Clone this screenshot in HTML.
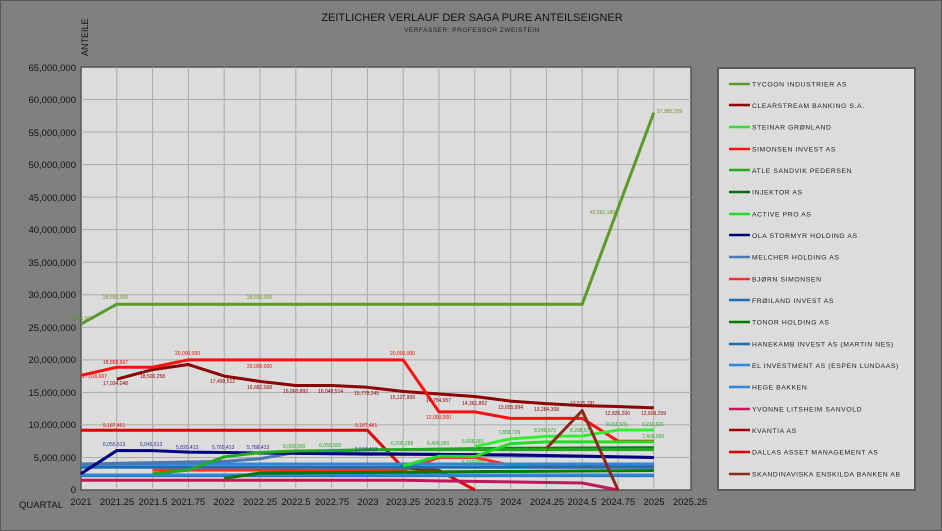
<!DOCTYPE html>
<html><head><meta charset="utf-8"><style>
body{margin:0;background:#808080;width:942px;height:531px;overflow:hidden;font-family:"Liberation Sans",sans-serif}
svg{display:block}
</style></head><body>
<svg id="s" width="942" height="531" xmlns="http://www.w3.org/2000/svg" font-family="Liberation Sans, sans-serif">
<rect x="0" y="0" width="942" height="531" fill="#808080" stroke="#5a5a5a" stroke-width="2"/>
<text x="472" y="21" font-size="11" text-anchor="middle" fill="#111">ZEITLICHER VERLAUF DER SAGA PURE ANTEILSEIGNER</text>
<text x="472" y="32" font-size="6.5" text-anchor="middle" fill="#222" letter-spacing="0.5">VERFASSER: PROFESSOR ZWEISTEIN</text>
<text transform="translate(88,56) rotate(-90)" font-size="9" fill="#111">ANTEILE</text>
<rect x="81" y="67" width="610" height="423" fill="#dcdcdc" stroke="#555" stroke-width="1.5"/>
<g id="grid" stroke="#aaa" stroke-width="1"></g>
<g id="series" fill="none" stroke-linejoin="round" stroke-width="3"></g>
<g font-size="9.5" fill="#111" text-anchor="end">
<text x="76" y="71">65,000,000</text><text x="76" y="103">60,000,000</text><text x="76" y="136">55,000,000</text><text x="76" y="168">50,000,000</text><text x="76" y="201">45,000,000</text><text x="76" y="233">40,000,000</text><text x="76" y="266">35,000,000</text><text x="76" y="298">30,000,000</text><text x="76" y="331">25,000,000</text><text x="76" y="363">20,000,000</text><text x="76" y="396">15,000,000</text><text x="76" y="428">10,000,000</text><text x="76" y="461">5,000,000</text><text x="76" y="493">0</text>
</g>
<text x="19" y="508" font-size="9.5" fill="#111">QUARTAL</text>
<g font-size="9.5" fill="#111" text-anchor="middle">
<text x="81" y="505">2021</text><text x="117" y="505">2021.25</text><text x="153" y="505">2021.5</text><text x="188" y="505">2021.75</text><text x="224" y="505">2022</text><text x="260" y="505">2022.25</text><text x="296" y="505">2022.5</text><text x="332" y="505">2022.75</text><text x="368" y="505">2023</text><text x="403" y="505">2023.25</text><text x="439" y="505">2023.5</text><text x="475" y="505">2023.75</text><text x="511" y="505">2024</text><text x="547" y="505">2024.25</text><text x="582" y="505">2024.5</text><text x="618" y="505">2024.75</text><text x="654" y="505">2025</text><text x="690" y="505">2025.25</text>
</g>
<g font-size="5" fill="#6b8e23">
<text x="103" y="299">28,550,000</text><text x="247" y="299">28,550,000</text><text x="590" y="214">42,581,185</text><text x="657" y="113">57,985,159</text><text x="68" y="320">25,500,000</text>
</g>
<g font-size="5" fill="#8b0000">
<text x="103" y="385">17,034,048</text><text x="140" y="378">18,500,258</text><text x="210" y="383">17,499,512</text><text x="247" y="389">16,682,068</text><text x="283" y="393">16,060,892</text><text x="318" y="393">16,048,514</text><text x="354" y="395">15,778,245</text><text x="390" y="399">15,127,909</text><text x="426" y="402">14,754,957</text><text x="462" y="405">14,361,862</text><text x="498" y="409">13,655,994</text><text x="534" y="411">13,284,368</text><text x="605" y="415">12,825,200</text><text x="641" y="415">12,609,259</text><text x="570" y="405">12,515,781</text>
</g>
<g font-size="5" fill="#e00">
<text x="103" y="364">18,858,667</text><text x="175" y="355">20,000,000</text><text x="247" y="368">20,000,000</text><text x="390" y="355">20,000,000</text><text x="426" y="419">12,000,000</text><text x="103" y="427">9,187,461</text><text x="355" y="427">9,187,461</text><text x="82" y="378">17,616,667</text>
</g>
<g font-size="5" fill="#2b2b9b">
<text x="103" y="446">6,055,513</text><text x="140" y="446">6,045,513</text><text x="176" y="449">5,820,413</text><text x="212" y="449">5,760,413</text><text x="247" y="449">5,788,413</text><text x="355" y="451">5,510,413</text>
</g>
<g font-size="5" fill="#22aa22">
<text x="283" y="448">6,000,000</text><text x="319" y="447">6,050,000</text><text x="391" y="445">6,200,288</text><text x="427" y="445">6,400,000</text><text x="462" y="443">6,666,001</text><text x="498" y="434">7,858,729</text><text x="534" y="432">8,249,672</text><text x="570" y="432">8,298,677</text><text x="606" y="426">9,211,631</text><text x="642" y="426">9,211,631</text><text x="642" y="438">7,400,000</text><text x="462" y="464">5,150,000</text>
</g>
</svg>
<script>
const NS="http://www.w3.org/2000/svg";
const X=q=>81+q*35.8, Y=v=>490-v*6.508;
const g=document.getElementById('grid');
function el(p,t,a){const e=document.createElementNS(NS,t);for(const k in a)e.setAttribute(k,a[k]);p.appendChild(e);return e;}
for(let i=1;i<17;i++)el(g,'line',{x1:X(i),x2:X(i),y1:67,y2:490});
for(let i=1;i<13;i++)el(g,'line',{x1:81,x2:691,y1:Y(i*5),y2:Y(i*5)});
const S=[
["#5a9a2a",[[0,25.5],[1,28.55],[14,28.55],[16,57.985]]],
["#8b0000",[[1,17.03],[2,18.5],[3,19.28],[4,17.5],[5,16.68],[6,16.06],[7,16.05],[8,15.78],[9,15.13],[10,14.75],[11,14.36],[12,13.66],[13,13.28],[14,12.97],[15,12.83],[16,12.61]]],
["#ff1010",[[0,17.62],[1,18.86],[2,18.86],[3,20],[9,20],[10,12],[11,12],[12,11],[14,11],[15,7.5],[16,7.5]]],
["#dd0000",[[0,9.19],[8,9.19],[9,3.4],[10,3.0],[11,0]]],
["#ff3030",[[2,3.05],[9,3.05],[10,5.0],[11,5.0],[12,3.8],[16,3.8]]],
["#1f6fb0",[[0,3.5],[16,3.5]]],
["#1a6fa8",[[0,2.2],[16,2.2]]],
["#2f86d8",[[0,2.3],[16,2.3]]],
["#2f86d8",[[0,3.9],[4,4.0],[16,4.0]]],
["#4a78b0",[[0,4.0],[4,4.4],[5,4.8],[6,5.8],[16,5.0]]],
["#000080",[[0,2.5],[1,6.06],[2,6.05],[3,5.82],[4,5.76],[8,5.51],[9,5.5],[12,5.4],[14,5.2],[16,5.0]]],
["#007a00",[[4,1.8],[5,2.6],[16,3.0]]],
["#0a7a0a",[[9,6.2],[12,6.4],[16,6.5]]],
["#22aa22",[[2,2.5],[3,3.05],[4,5.1],[5,5.76],[6,6.0],[7,6.05],[8,6.2],[16,6.2]]],
["#22dd22",[[9,3.7],[10,5.2],[11,5.15],[12,7.13],[13,7.4],[16,7.4]]],
["#33ee33",[[11,6.67],[12,7.86],[13,8.25],[14,8.3],[15,9.21],[16,9.21]]],
["#c0185a",[[0,1.5],[9,1.5],[10,1.4],[14,1.08],[15,0]]],
["#8b2a1a",[[13,6.4],[14,12.2],[15,0]]]
];
const sg=document.getElementById('series');
S.forEach(([c,pts])=>el(sg,'polyline',{stroke:c,points:pts.map(p=>X(p[0])+','+Y(p[1])).join(' ')}));
</script>
<svg style="position:absolute;left:0;top:0" width="942" height="531" xmlns="http://www.w3.org/2000/svg" font-family="Liberation Sans, sans-serif">
<rect x="718" y="68" width="197" height="422" fill="#dcdcdc" stroke="#5a5a5a" stroke-width="2"/>
<g stroke-width="2.5">
<line x1="729" x2="750" y1="84" y2="84" stroke="#5a9a2a"/><line x1="729" x2="750" y1="105" y2="105" stroke="#8b0000"/><line x1="729" x2="750" y1="127" y2="127" stroke="#33dd33"/><line x1="729" x2="750" y1="149" y2="149" stroke="#ff1010"/><line x1="729" x2="750" y1="170" y2="170" stroke="#22aa22"/><line x1="729" x2="750" y1="192" y2="192" stroke="#0a6a0a"/><line x1="729" x2="750" y1="214" y2="214" stroke="#22dd22"/><line x1="729" x2="750" y1="235" y2="235" stroke="#000080"/><line x1="729" x2="750" y1="257" y2="257" stroke="#4a78b0"/><line x1="729" x2="750" y1="279" y2="279" stroke="#ff3030"/><line x1="729" x2="750" y1="300" y2="300" stroke="#1f6fb0"/><line x1="729" x2="750" y1="322" y2="322" stroke="#007a00"/><line x1="729" x2="750" y1="344" y2="344" stroke="#1a6fa8"/><line x1="729" x2="750" y1="365" y2="365" stroke="#2f86d8"/><line x1="729" x2="750" y1="387" y2="387" stroke="#2f86d8"/><line x1="729" x2="750" y1="409" y2="409" stroke="#c0185a"/><line x1="729" x2="750" y1="430" y2="430" stroke="#a00000"/><line x1="729" x2="750" y1="452" y2="452" stroke="#dd0000"/><line x1="729" x2="750" y1="474" y2="474" stroke="#8b2a1a"/>
</g>
<g font-size="6.8" fill="#222" letter-spacing="0.6">
<text x="752" y="86.5">TYCOON INDUSTRIER AS</text><text x="752" y="108">CLEARSTREAM BANKING S.A.</text><text x="752" y="129.5">STEINAR GRØNLAND</text><text x="752" y="151.5">SIMONSEN INVEST AS</text><text x="752" y="173">ATLE SANDVIK PEDERSEN</text><text x="752" y="194.5">INJEKTOR AS</text><text x="752" y="216.5">ACTIVE PRO AS</text><text x="752" y="238">OLA STORMYR HOLDING AS</text><text x="752" y="259.5">MELCHER HOLDING AS</text><text x="752" y="281.5">BJØRN SIMONSEN</text><text x="752" y="303">FRØILAND INVEST AS</text><text x="752" y="324.5">TONOR HOLDING AS</text><text x="752" y="346.5">HANEKAMB INVEST AS (MARTIN NES)</text><text x="752" y="368">EL INVESTMENT AS (ESPEN LUNDAAS)</text><text x="752" y="389.5">HEGE BAKKEN</text><text x="752" y="411.5">YVONNE LITSHEIM SANVOLD</text><text x="752" y="433">KVANTIA AS</text><text x="752" y="454.5">DALLAS ASSET MANAGEMENT AS</text><text x="752" y="476.5">SKANDINAVISKA ENSKILDA BANKEN AB</text>
</g>
</svg>
</body></html>
